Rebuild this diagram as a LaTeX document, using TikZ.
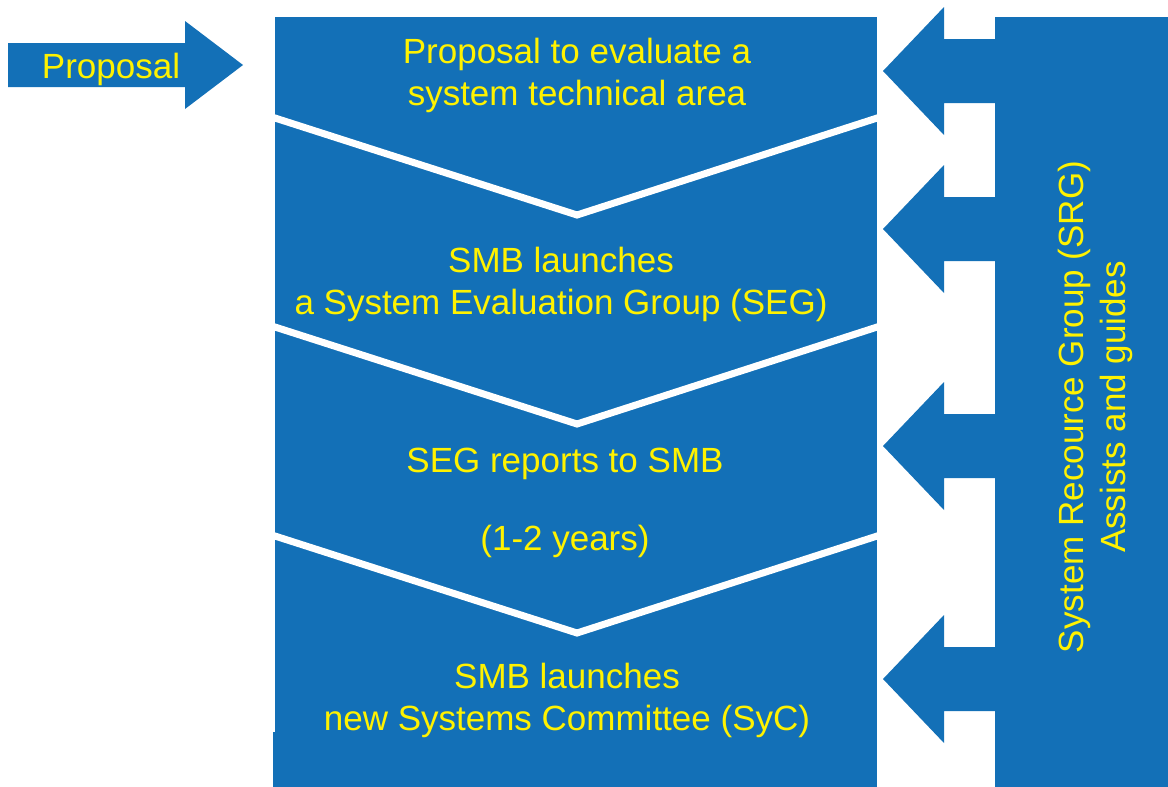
\documentclass[tikz,border=0pt]{standalone}
\usepackage{fontspec}
\setmainfont{Liberation Sans}
\usepackage{tikz}
\usetikzlibrary{positioning}
\usepackage{xcolor}
\definecolor{flow}{HTML}{1370B7}
\definecolor{stagetext}{HTML}{FFF200}

\begin{document}
\begin{tikzpicture}[x=0.5pt,y=-0.5pt,
  stage/.style={text=stagetext,font=\fontsize{17.5}{21}\selectfont,align=center,inner sep=0pt,anchor=base}]
  \useasboundingbox (0,0) rectangle (1168,787);

  % main column of stages and the SRG column
  \fill[flow] (275,17) rectangle (877,732);
  \fill[flow] (273,732) rectangle (877,787);
  \fill[flow] (995,17) rectangle (1168,787);

  % white chevron cuts between the stages
  \begin{scope}
    \clip (273,0) rectangle (877,787);
    \foreach \y in {118,327,536} {
      \draw[white,line width=3.5pt] (255,\y-6.4) -- (577,\y+97) -- (897,\y-6.4);
    }
  \end{scope}

  % incoming proposal
  \fill[flow] (8,43) -- (185,43) -- (185,21) -- (243,65) -- (185,109) -- (185,87) -- (8,87) -- cycle;

  % SRG arrows pointing into the stages
  \foreach \t in {71,229,446,679} {
    \fill[flow] (996,\t-32) -- (944,\t-32) -- (944,\t-64) -- (883,\t)
      -- (944,\t+64) -- (944,\t+32) -- (996,\t+32) -- cycle;
  }

  \node[stage] (proposal) at (111,78) {Proposal};
  \node[stage] (evaluate) at (577,105) {Proposal to evaluate a\\system technical area};
  \node[stage] (seg) at (561,314) {SMB launches\\a System Evaluation Group (SEG)};
  \node[stage] (report) at (565,550) {SEG reports to SMB\\[18pt](1-2 years)};
  \node[stage] (syc) at (567,730) {SMB launches\\new Systems Committee (SyC)};
  \node[stage,rotate=90] (srg) at (1125,407) {System Recource Group (SRG)\\Assists and guides};
\end{tikzpicture}
\end{document}
